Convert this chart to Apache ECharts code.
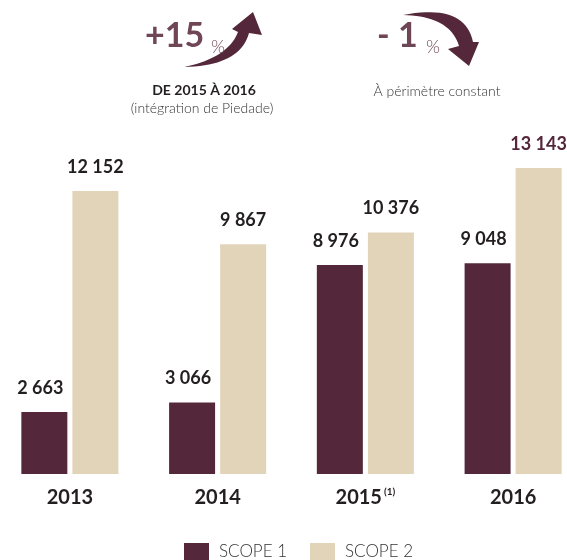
<!DOCTYPE html>
<html>
<head>
<meta charset="utf-8">
<script src="https://cdn.jsdelivr.net/npm/echarts@6/dist/echarts.min.js"></script>
<style>
html,body{margin:0;padding:0;background:#fff;}
#chart{width:567px;height:560px;}
</style>
</head>
<body>
<div id="chart"></div>
<script>
const categories = ['2013', '2014', '2015', '2016'];
const categoryNotes = ['', '', '(1)', ''];
const seriesNames = ['SCOPE 1', 'SCOPE 2'];
const scope1 = [2663, 3066, 8976, 9048];
const scope2 = [12152, 9867, 10376, 13143];
const highlightIndex = 3;

const C1 = '#54283a';
const C2 = '#e2d4b9';
const DARK = '#231f20';
const ACCENT = '#6f4656';
const FONT = 'Lato, "DejaVu Sans", sans-serif';

function fmt(v) { return String(v).replace(/\B(?=(\d{3})+(?!\d))/g, ' '); }

// Decorative arrow outline: quadratic edges sampled to a polygon
function quad(p0, c, p1, n) {
  const pts = [];
  for (let k = 0; k <= n; k++) {
    const t = k / n, u = 1 - t;
    pts.push([u * u * p0[0] + 2 * u * t * c[0] + t * t * p1[0], u * u * p0[1] + 2 * u * t * c[1] + t * t * p1[1]]);
  }
  return pts;
}
function arrow(tail, c1, base1, head, c2, base2) {
  return quad(tail, c1, base1, 20).concat(head, quad(base2, c2, tail, 20));
}
const upArrow = arrow([184, 67], [240, 66], [249, 33], [[262, 35], [253, 12], [232, 29]], [228, 58], [238, 32]);
const downArrow = arrow([403, 15], [465, 3], [473, 42], [[479, 42], [469, 66], [448, 49]], [450, 16], [459, 46]);

const chart = echarts.init(document.getElementById('chart'), null, {renderer: 'canvas'});

const valueLabel = {
  show: true, position: 'top', distance: 15,
  fontFamily: FONT, fontSize: 18, fontWeight: 'bold', color: DARK,
  formatter: p => fmt(p.value)
};

chart.setOption({
  animation: false,
  backgroundColor: '#fff',
  grid: { left: -4, width: 591, top: 148, bottom: 86, containLabel: false, outerBoundsMode: 'none' },
  xAxis: {
    type: 'category', data: categories,
    axisLine: { show: false }, axisTick: { show: false },
    axisLabel: {
      margin: 13, interval: 0,
      formatter: (v, i) => categoryNotes[i] ? `{y|${v}}{sup|${categoryNotes[i]}}` : `{y|${v}}`,
      rich: {
        y: { fontFamily: FONT, fontSize: 20, fontWeight: 'bold', color: DARK, lineHeight: 22 },
        sup: { fontFamily: FONT, fontSize: 10, fontWeight: 'bold', color: DARK, verticalAlign: 'top', padding: [0, 0, 0, 2], lineHeight: 12 }
      }
    }
  },
  yAxis: { type: 'value', min: 0, max: 14000, show: false, splitLine: { show: false } },
  legend: {
    data: seriesNames, left: 179, top: 538, icon: 'rect',
    itemWidth: 25, itemHeight: 17, itemGap: 23,
    textStyle: { fontFamily: FONT, fontSize: 17, fontWeight: 300, color: '#333', padding: [0, 0, 0, 5] }
  },
  series: [
    {
      name: seriesNames[0], type: 'bar', data: scope1, barWidth: 46, barGap: '11%',
      itemStyle: { color: C1 },
      label: Object.assign({}, valueLabel, { offset: [-4, 0] })
    },
    {
      name: seriesNames[1], type: 'bar', data: scope2.map((v, i) => i === highlightIndex
        ? { value: v, label: { color: C1 } } : v),
      barWidth: 46, barGap: '11%',
      itemStyle: { color: C2 },
      label: valueLabel
    }
  ],
  graphic: [
    { type: 'polygon', shape: { points: upArrow }, style: { fill: C1 } },
    { type: 'polygon', shape: { points: downArrow }, style: { fill: C1 } },
    { type: 'text', x: 145, y: 53, style: { text: '+15', fontFamily: FONT, fontSize: 34, fontWeight: 'bold', fill: ACCENT, align: 'left', verticalAlign: 'bottom' } },
    { type: 'text', x: 211, y: 56, style: { text: '%', fontFamily: FONT, fontSize: 18, fontWeight: 300, fill: ACCENT, align: 'left', verticalAlign: 'bottom' } },
    { type: 'text', x: 377, y: 53, style: { text: '- 1', fontFamily: FONT, fontSize: 34, fontWeight: 'bold', fill: ACCENT, align: 'left', verticalAlign: 'bottom' } },
    { type: 'text', x: 426, y: 56, style: { text: '%', fontFamily: FONT, fontSize: 18, fontWeight: 300, fill: ACCENT, align: 'left', verticalAlign: 'bottom' } },
    { type: 'text', x: 204, y: 90, style: { text: 'DE 2015 À 2016', fontFamily: FONT, fontSize: 14, fontWeight: 'bold', fill: DARK, align: 'center', verticalAlign: 'middle' } },
    { type: 'text', x: 202, y: 108, style: { text: '(intégration de Piedade)', fontFamily: FONT, fontSize: 14, fontWeight: 300, fill: '#333', align: 'center', verticalAlign: 'middle' } },
    { type: 'text', x: 437, y: 91, style: { text: 'À périmètre constant', fontFamily: FONT, fontSize: 14, fontWeight: 300, fill: '#333', align: 'center', verticalAlign: 'middle' } }
  ]
});
</script>
</body>
</html>
